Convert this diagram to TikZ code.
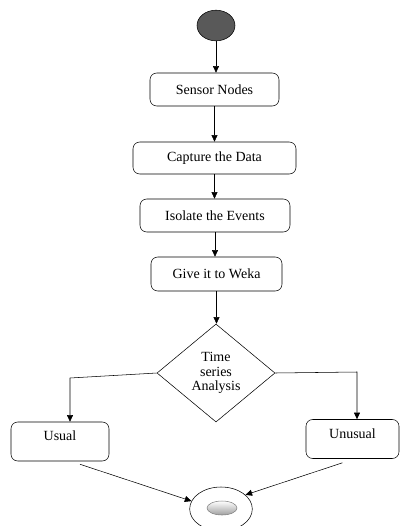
\documentclass[tikz,border=0pt]{standalone}
\usepackage{fontspec}
\setmainfont{Liberation Serif}
\usetikzlibrary{shapes.geometric,arrows.meta}

\tikzset{
	procbox/.style={draw, rounded corners=5pt, inner sep=2pt, font=\fontsize{10.5}{12}\selectfont},
	outbox/.style={procbox, text height=7.5pt, text depth=8.5pt},
	arr/.style={-{Triangle[length=5pt,width=4.5pt]}, thin},
}

\begin{document}
\begin{tikzpicture}[x=0.75pt, y=-0.75pt]
			\useasboundingbox (0,0) rectangle (400,526);
			% start and end
			\node[draw, ellipse, fill=black!65, minimum width=28.5pt, minimum height=23pt, inner sep=0pt] (start) at (216,25.5) {};
			\node[draw, ellipse, minimum width=47pt, minimum height=33pt, inner sep=0pt] (finish) at (221,509) {};
			\node[draw=gray, ellipse, shade, top color=white, bottom color=gray!75, minimum width=22.5pt, minimum height=10.5pt, inner sep=0pt] (finishdot) at (222,508) {};
			% steps
			\node[procbox, minimum width=96.75pt, minimum height=24.75pt] (sensor) at (214.5,89.5) {Sensor Nodes};
			\node[procbox, minimum width=122.25pt, minimum height=24pt] (capture) at (214.5,158) {Capture the Data};
			\node[procbox, minimum width=112.5pt, minimum height=24.75pt] (isolate) at (215,215.5) {Isolate the Events};
			\node[procbox, minimum width=98.25pt, minimum height=25.5pt] (weka) at (216.5,274) {Give it to Weka};
			\node[draw, diamond, minimum width=88.5pt, minimum height=73.5pt, inner sep=0pt, align=center, font=\fontsize{10.5}{11}\selectfont] (tsa) at (216,373) {Time\\series\\Analysis};
			\node[outbox, minimum width=73.5pt, minimum height=29.25pt] (usual) at (60,441.5) {Usual};
			\node[outbox, minimum width=69.75pt, minimum height=29.25pt] (unusual) at (352.5,439) {Unusual};
			\coordinate (lbend) at (70,378);
			\coordinate (rbend) at (357,372);
			% arrows
			\draw[arr] (start) -- (start |- sensor.north);
			\draw[arr] (sensor) -- (sensor |- capture.north);
			\draw[arr] (capture) -- (capture |- isolate.north);
			\draw[arr] (isolate) -- (isolate |- weka.north);
			\draw[arr] (weka) -- (weka |- tsa.north);
			\draw[arr] (tsa.west) -- (lbend) -- (lbend |- usual.north);
			\draw[arr] (tsa.east) -- (rbend) -- (rbend |- unusual.north);
			\draw[arr] ([shift={(20,3)}]usual.south) -- (finish.165);
			\draw[arr] ([shift={(-10,4)}]unusual.south) -- (finish.30);
\end{tikzpicture}
\end{document}
